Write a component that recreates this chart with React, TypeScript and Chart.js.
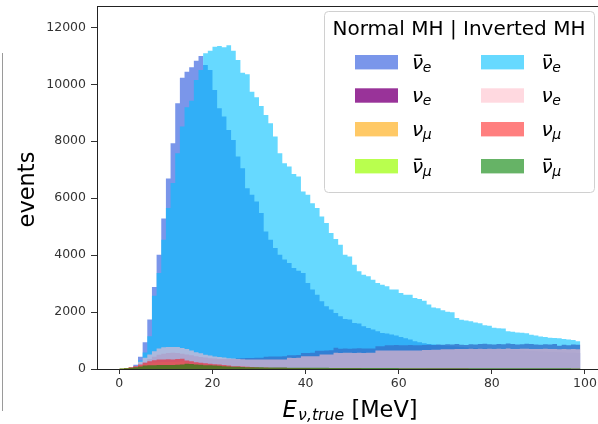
import React, { useEffect, useRef } from 'react';
import { Chart, registerables } from 'chart.js';

Chart.register(...registerables);

const FONT = '"DejaVu Sans", "Liberation Sans", sans-serif';

// Bin left edges in MeV (1 MeV bins, 0..99)
const BIN_EDGES: number[] = Array.from({ length: 100 }, (_, i) => i);

const X_TICKS = [0, 20, 40, 60, 80, 100];
const Y_TICKS = [0, 2000, 4000, 6000, 8000, 10000, 12000];

// Normal MH
const NMH_ANTI_NUE = [
  0, 10, 40, 150, 428, 940, 1736, 2882, 4015, 5288,
  6690, 7931, 9333, 10231, 10442, 10596, 10827, 10992, 10676, 10501,
  9800, 9158, 8866, 8397, 8047, 7461, 7054, 6353, 6118, 5884,
  5477, 4832, 4540, 4248, 4015, 3850, 3720, 3550, 3450, 3372,
  3022, 2788, 2612, 2379, 2203, 2086, 1970, 1852, 1759, 1736,
  1619, 1596, 1502, 1443, 1385, 1327, 1268, 1245, 1210, 1175,
  1128, 1081, 1034, 975, 940, 905, 880, 860, 845, 830,
  815, 800, 790, 775, 765, 750, 740, 730, 720, 710,
  700, 690, 680, 675, 665, 655, 650, 640, 630, 625,
  615, 610, 600, 595, 590, 580, 575, 570, 560,
];
const NMH_NUE = [
  0, 10, 40, 80, 150, 250, 350, 430, 500, 540,
  560, 570, 560, 540, 510, 480, 450, 420, 400, 380,
  365, 355, 350, 350, 355, 365, 375, 385, 390, 392,
  395, 430, 435, 440, 438, 445, 480, 485, 490, 560,
  565, 570, 640, 645, 650, 655, 742, 715, 720, 715,
  720, 725, 718, 722, 720, 800, 795, 830, 835, 840,
  830, 835, 840, 835, 830, 845, 850, 840, 860, 850,
  870, 860, 880, 850, 840, 870, 860, 880, 890, 870,
  860, 880, 870, 900, 880, 860, 870, 890, 880, 860,
  850, 870, 860, 880, 820, 850, 830, 860, 850,
];
const NMH_NUMU = [
  6, 22, 45, 72, 115, 160, 200, 225, 240, 245,
  248, 246, 255, 260, 220, 200, 175, 158, 146, 132,
  124, 116, 102, 88, 74, 70, 62, 55, 51, 44,
  40, 37, 35, 33, 31, 29, 28, 26, 25, 24,
  23, 22, 22, 20, 20, 19, 18, 18, 17, 17,
  16, 16, 15, 15, 15, 14, 14, 14, 13, 13,
  13, 12, 12, 12, 12, 12, 11, 11, 11, 11,
  11, 10, 10, 10, 10, 10, 9, 9, 9, 9,
  9, 9, 9, 8, 8, 8, 8, 8, 8, 8,
  7, 7, 7, 7, 7, 7, 7, 6, 6,
];
const NMH_ANTI_NUMU = [
  11, 22, 30, 45, 68, 90, 100, 102, 105, 106,
  105, 106, 112, 120, 135, 130, 120, 112, 100, 100,
  90, 82, 75, 68, 60, 57, 52, 49, 46, 45,
  43, 42, 40, 39, 37, 37, 36, 35, 34, 34,
  33, 32, 31, 31, 30, 29, 28, 28, 28, 27,
  26, 26, 25, 25, 25, 25, 24, 24, 23, 23,
  22, 22, 22, 22, 22, 22, 21, 21, 21, 20,
  20, 20, 20, 20, 19, 19, 19, 19, 19, 19,
  19, 19, 18, 18, 18, 18, 18, 17, 17, 17,
  17, 17, 16, 16, 16, 16, 16, 16, 16,
];

// Inverted MH
const IMH_ANTI_NUE = [
  0, 5, 20, 80, 300, 578, 1150, 2577, 3373, 4540,
  5652, 6529, 7581, 8514, 9193, 9425, 10150, 10501, 11087, 11178,
  11318, 11343, 11297, 11367, 11178, 10852, 10407, 10350, 9741, 9544,
  9239, 8924, 8632, 8163, 7581, 7230, 7111, 6850, 6761, 6235,
  6118, 5826, 5651, 5359, 5125, 4775, 4565, 4365, 4015, 3955,
  3664, 3430, 3313, 3255, 3138, 3022, 2963, 2904, 2788, 2788,
  2671, 2612, 2612, 2496, 2460, 2400, 2262, 2160, 2130, 2063,
  2010, 1990, 1794, 1730, 1700, 1677, 1630, 1610, 1540, 1520,
  1450, 1430, 1420, 1330, 1310, 1280, 1270, 1255, 1200, 1180,
  1140, 1120, 1100, 1090, 1080, 1050, 1035, 1020, 975,
];
const IMH_NUE = [
  0, 15, 50, 100, 251, 391, 508, 625, 719, 765,
  770, 775, 770, 740, 700, 650, 590, 550, 500, 470,
  440, 420, 400, 380, 365, 350, 340, 335, 333, 333,
  333, 335, 333, 335, 333, 335, 391, 390, 392, 450,
  448, 452, 450, 508, 505, 510, 567, 565, 568, 567,
  566, 568, 565, 567, 568, 649, 650, 648, 652, 650,
  648, 652, 650, 648, 650, 665, 670, 675, 680, 690,
  695, 690, 700, 705, 700, 710, 700, 710, 705, 715,
  700, 710, 700, 720, 705, 700, 710, 715, 700, 705,
  700, 710, 700, 705, 690, 700, 695, 700, 690,
];
const IMH_NUMU = [
  10, 30, 60, 99, 158, 216, 275, 310, 333, 335,
  340, 335, 350, 356, 300, 275, 240, 216, 200, 181,
  170, 160, 140, 120, 100, 95, 85, 75, 70, 60,
  55, 50, 48, 45, 42, 40, 38, 36, 35, 33,
  32, 30, 30, 28, 27, 26, 25, 25, 24, 23,
  22, 22, 21, 20, 20, 20, 19, 19, 18, 18,
  18, 17, 17, 17, 16, 16, 16, 15, 15, 15,
  15, 14, 14, 14, 14, 13, 13, 13, 13, 12,
  12, 12, 12, 12, 11, 11, 11, 11, 11, 10,
  10, 10, 10, 10, 10, 9, 9, 9, 9,
];
const IMH_ANTI_NUMU = [
  15, 30, 41, 60, 90, 120, 134, 134, 140, 140,
  140, 140, 150, 160, 181, 175, 160, 150, 134, 134,
  120, 110, 100, 90, 80, 76, 70, 65, 62, 60,
  58, 56, 54, 52, 50, 49, 48, 47, 46, 45,
  44, 43, 42, 41, 40, 39, 38, 38, 37, 36,
  35, 35, 34, 34, 33, 33, 32, 32, 31, 31,
  30, 30, 30, 29, 29, 29, 28, 28, 28, 27,
  27, 27, 27, 26, 26, 26, 26, 25, 25, 25,
  25, 25, 24, 24, 24, 24, 24, 23, 23, 23,
  23, 23, 22, 22, 22, 22, 22, 21, 21,
];

// Series in drawing order (bottom first); style kept separate from values
const SERIES = [
  { data: NMH_ANTI_NUE, color: 'rgba(65,105,225,0.7)', col: 0, row: 0, sub: 'e', bar: true },
  { data: NMH_NUE, color: 'rgba(128,0,128,0.8)', col: 0, row: 1, sub: 'e', bar: false },
  { data: NMH_NUMU, color: 'rgba(255,165,0,0.6)', col: 0, row: 2, sub: 'μ', bar: false },
  { data: NMH_ANTI_NUMU, color: 'rgba(173,255,47,0.85)', col: 0, row: 3, sub: 'μ', bar: true },
  { data: IMH_ANTI_NUE, color: 'rgba(0,191,255,0.6)', col: 1, row: 0, sub: 'e', bar: true },
  { data: IMH_NUE, color: 'rgba(255,192,203,0.6)', col: 1, row: 1, sub: 'e', bar: false },
  { data: IMH_NUMU, color: 'rgba(255,0,0,0.5)', col: 1, row: 2, sub: 'μ', bar: false },
  { data: IMH_ANTI_NUMU, color: 'rgba(0,128,0,0.6)', col: 1, row: 3, sub: 'μ', bar: true },
];

const LEGEND_TITLE = 'Normal MH | Inverted MH';

// Histogram: value of bin i at its left edge, closing point at the last right edge
function toSteps(values: number[]) {
  const pts = values.map((v, i) => ({ x: BIN_EDGES[i], y: v }));
  pts.push({ x: BIN_EDGES[values.length], y: values[values.length - 1] });
  return pts;
}

function drawNuLabel(ctx: CanvasRenderingContext2D, x: number, baseline: number, bar: boolean, sub: string) {
  ctx.fillStyle = '#000';
  ctx.textAlign = 'left';
  ctx.textBaseline = 'alphabetic';
  ctx.font = `italic 20px ${FONT}`;
  ctx.fillText('ν', x, baseline);
  const w = ctx.measureText('ν').width;
  if (bar) ctx.fillRect(x + 2.5, baseline - 14, 7, 1.5);
  ctx.font = `italic 14px ${FONT}`;
  ctx.fillText(sub, x + w - 0.5, baseline + 3.5);
}

const decorPlugin = {
  id: 'decor',
  beforeDraw(chart: any) {
    const ctx = chart.ctx as CanvasRenderingContext2D;
    ctx.save();
    ctx.fillStyle = '#fff';
    ctx.fillRect(0, 0, chart.width, chart.height);
    ctx.restore();
  },
  afterDraw(chart: any) {
    const ctx = chart.ctx as CanvasRenderingContext2D;
    const a = chart.chartArea;
    ctx.save();
    // top spine
    ctx.strokeStyle = '#222';
    ctx.lineWidth = 1;
    ctx.beginPath();
    ctx.moveTo(a.left, a.top + 0.5);
    ctx.lineTo(chart.width, a.top + 0.5);
    ctx.stroke();
    // faint left frame line
    ctx.strokeStyle = '#9a9a9a';
    ctx.beginPath();
    ctx.moveTo(2.5, 53);
    ctx.lineTo(2.5, 411);
    ctx.stroke();

    // y label
    ctx.fillStyle = '#000';
    ctx.save();
    ctx.translate(33.5, (a.top + a.bottom) / 2 + 2);
    ctx.rotate(-Math.PI / 2);
    ctx.font = `22.5px ${FONT}`;
    ctx.textAlign = 'center';
    ctx.textBaseline = 'alphabetic';
    ctx.fillText('events', 0, 0);
    ctx.restore();

    // x label: E_{ν,true} [MeV]
    const big = 22.5, small = 15.75;
    ctx.textAlign = 'left';
    ctx.textBaseline = 'alphabetic';
    ctx.font = `italic ${big}px ${FONT}`;
    const wE = ctx.measureText('E').width;
    ctx.font = `italic ${small}px ${FONT}`;
    const wS = ctx.measureText('ν,true').width;
    ctx.font = `${big}px ${FONT}`;
    const wU = ctx.measureText(' [MeV]').width;
    const total = wE + 1.5 + wS + wU;
    let x = 350 - total / 2;
    const base = 417;
    ctx.font = `italic ${big}px ${FONT}`;
    ctx.fillText('E', x, base);
    x += wE + 1.5;
    ctx.font = `italic ${small}px ${FONT}`;
    ctx.fillText('ν,true', x, base + 3);
    x += wS;
    ctx.font = `${big}px ${FONT}`;
    ctx.fillText(' [MeV]', x, base);

    // legend
    ctx.fillStyle = 'rgba(255,255,255,0.8)';
    ctx.strokeStyle = '#d0d0d0';
    ctx.lineWidth = 1;
    ctx.beginPath();
    (ctx as any).roundRect(324.5, 11.5, 270, 181, 4);
    ctx.fill();
    ctx.stroke();
    ctx.fillStyle = '#000';
    ctx.font = `20px ${FONT}`;
    ctx.textAlign = 'center';
    ctx.fillText(LEGEND_TITLE, 459, 35);
    const rowCenters = [62.2, 95.5, 129.2, 166.2];
    const patchX = [355, 481];
    const labelX = [412, 541.5];
    SERIES.forEach((s) => {
      const cy = rowCenters[s.row];
      ctx.fillStyle = s.color;
      ctx.fillRect(patchX[s.col], cy - 7.2, 43, 14.4);
      drawNuLabel(ctx, labelX[s.col], cy + 6.3, s.bar, s.sub);
    });
    ctx.restore();
  },
};

export default function App() {
  const ref = useRef<HTMLCanvasElement>(null);
  useEffect(() => {
    const canvas = ref.current;
    if (!canvas) return;
    // CPU-backed 2D context: single-pass path rasterisation for the filled histograms
    const ctx2d = canvas.getContext('2d', { willReadFrequently: true }) as CanvasRenderingContext2D;
    const n = SERIES.length;
    const chart = new Chart(ctx2d, {
      type: 'line',
      data: {
        datasets: SERIES.map((s, i) => ({
          data: toSteps(s.data),
          backgroundColor: s.color,
          borderColor: 'rgba(0,0,0,0)',
          borderWidth: 0,
          fill: 'origin',
          stepped: true,
          spanGaps: true,
          pointRadius: 0,
          order: n - i,
        })),
      },
      options: {
        responsive: false,
        devicePixelRatio: 1,
        animation: false,
        layout: { padding: { top: 6, left: 0, right: 0, bottom: 0 } },
        plugins: { legend: { display: false }, tooltip: { enabled: false } },
        scales: {
          x: {
            type: 'linear',
            min: -4.8,
            max: 102.8,
            afterFit: (s: any) => {
              s.height = 55;
              s.paddingLeft = 0;
              s.paddingRight = 0;
            },
            afterBuildTicks: (s: any) => {
              s.ticks = X_TICKS.map((v) => ({ value: v }));
            },
            ticks: {
              font: { family: FONT, size: 12.5 },
              color: '#333',
              padding: 2,
              maxRotation: 0,
              autoSkip: false,
              callback: (v: any) => String(v),
            },
            grid: { drawOnChartArea: false, drawTicks: true, tickLength: 5, color: '#333' },
            border: { display: true, color: '#222', width: 1 },
          },
          y: {
            type: 'linear',
            min: 0,
            max: 12750,
            afterFit: (s: any) => {
              s.width = 97;
              s.paddingTop = 0;
              s.paddingBottom = 0;
            },
            afterBuildTicks: (s: any) => {
              s.ticks = Y_TICKS.map((v) => ({ value: v }));
            },
            ticks: {
              font: { family: FONT, size: 12.5 },
              color: '#333',
              padding: 5,
              autoSkip: false,
              callback: (v: any) => String(v),
            },
            grid: { drawOnChartArea: false, drawTicks: true, tickLength: 6, color: '#333' },
            border: { display: true, color: '#222', width: 1 },
          },
        },
      },
      plugins: [decorPlugin],
    } as any);
    return () => chart.destroy();
  }, []);
  return (
    <div style={{ position: 'fixed', left: 0, top: 0, width: 598, height: 424, background: '#fff' }}>
      <canvas ref={ref} width={598} height={424} style={{ display: 'block', width: 598, height: 424 }} />
    </div>
  );
}
